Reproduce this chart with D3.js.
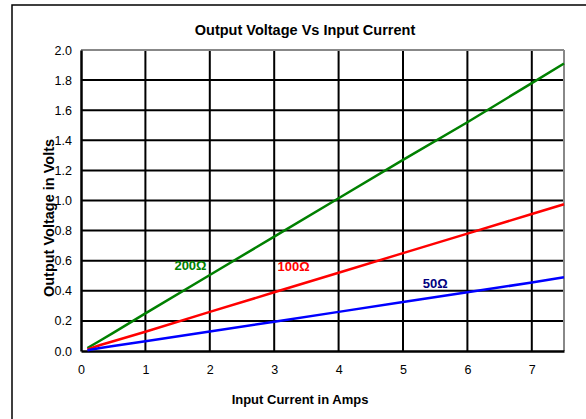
<!DOCTYPE html>
<html><head><meta charset="utf-8">
<script src="https://cdn.jsdelivr.net/npm/d3@7"></script>
<style>body{margin:0;background:#fff}svg{display:block}</style>
</head><body><div id="c"></div>
<script>
const xTicks = [0,1,2,3,4,5,6,7];
const yTicks = [0,0.2,0.4,0.6,0.8,1.0,1.2,1.4,1.6,1.8,2.0];
const current = [0.1,0.3,0.5,1,2,3,4,5,6,7,7.5];
const v200 = [0.02,0.07,0.12,0.25,0.505,0.76,1.015,1.27,1.52,1.78,1.91];
const v100 = [0.01,0.04,0.065,0.128,0.26,0.39,0.52,0.65,0.78,0.91,0.975];
const v50  = [0.005,0.02,0.033,0.065,0.13,0.195,0.26,0.325,0.39,0.455,0.49];
const seriesNames = ["200\u03A9","100\u03A9","50\u03A9"];
const seriesColors = ["#008000","#ff0000","#0000ff"];
const labelColors = ["#008000","#ff0000","#000080"];
const labelPos = [[1.7,0.54],[3.3,0.53],[5.5,0.42]];

const W=586,H=419;
const svg=d3.select("#c").append("svg").attr("width",W).attr("height",H);
svg.append("rect").attr("x",12).attr("y",5).attr("width",600).attr("height",430)
  .attr("fill","#fff").attr("stroke","#000").attr("stroke-width",1.5);

const L=81,R=564,T=50,B=351;
const x=d3.scaleLinear().domain([0,7.5]).range([L,R]);
const y=d3.scaleLinear().domain([0,2]).range([B,T]);
const font="Arial, 'Liberation Sans', sans-serif";

// grid
svg.append("g").selectAll("line").data(xTicks.filter(d=>d>0)).join("line")
  .attr("x1",d=>x(d)).attr("x2",d=>x(d)).attr("y1",T).attr("y2",B)
  .attr("stroke","#000").attr("stroke-width",2);
svg.append("g").selectAll("line").data(yTicks.filter(d=>d>0&&d<2)).join("line")
  .attr("x1",L).attr("x2",R).attr("y1",d=>y(d)).attr("y2",d=>y(d))
  .attr("stroke","#000").attr("stroke-width",2);
// plot border
svg.append("line").attr("x1",L).attr("x2",R).attr("y1",T).attr("y2",T).attr("stroke","#888").attr("stroke-width",2);
svg.append("line").attr("x1",R).attr("x2",R).attr("y1",T).attr("y2",B).attr("stroke","#888").attr("stroke-width",2);

// axes
const xa=svg.append("g").attr("transform",`translate(0,${B})`)
  .call(d3.axisBottom(x).tickValues(xTicks).tickSize(0).tickPadding(14).tickFormat(d3.format("d")));
xa.select(".domain").attr("stroke","#000").attr("stroke-width",2.5);
xa.selectAll("text").attr("font-family",font).attr("font-size",12.5).attr("fill","#000");
const ya=svg.append("g").attr("transform",`translate(${L},0)`)
  .call(d3.axisLeft(y).tickValues(yTicks).tickSize(0).tickPadding(9).tickFormat(d3.format(".1f")));
ya.select(".domain").attr("stroke","#000").attr("stroke-width",2.5);
ya.selectAll("text").attr("font-family",font).attr("font-size",12.5).attr("fill","#000");

// lines
const line=d3.line().x((d,i)=>x(current[i])).y(d=>y(d));
[v200,v100,v50].forEach((s,i)=>{
  svg.append("path").attr("d",line(s)).attr("fill","none")
    .attr("stroke",seriesColors[i]).attr("stroke-width",2.5);
});
seriesNames.forEach((n,i)=>{
  svg.append("text").attr("x",x(labelPos[i][0])).attr("y",y(labelPos[i][1]))
    .attr("text-anchor","middle").attr("font-family",font).attr("font-weight","bold")
    .attr("font-size",13).attr("fill",labelColors[i]).text(n);
});

// titles
svg.append("text").attr("x",305).attr("y",35).attr("text-anchor","middle")
  .attr("font-family",font).attr("font-weight","bold").attr("font-size",14.5).text("Output Voltage Vs Input Current");
svg.append("text").attr("x",300).attr("y",404).attr("text-anchor","middle")
  .attr("font-family",font).attr("font-weight","bold").attr("font-size",13).text("Input Current in Amps");
svg.append("text").attr("transform","translate(54,218) rotate(-90)").attr("text-anchor","middle")
  .attr("font-family",font).attr("font-weight","bold").attr("font-size",14.5).text("Output Voltage in Volts");
</script></body></html>
